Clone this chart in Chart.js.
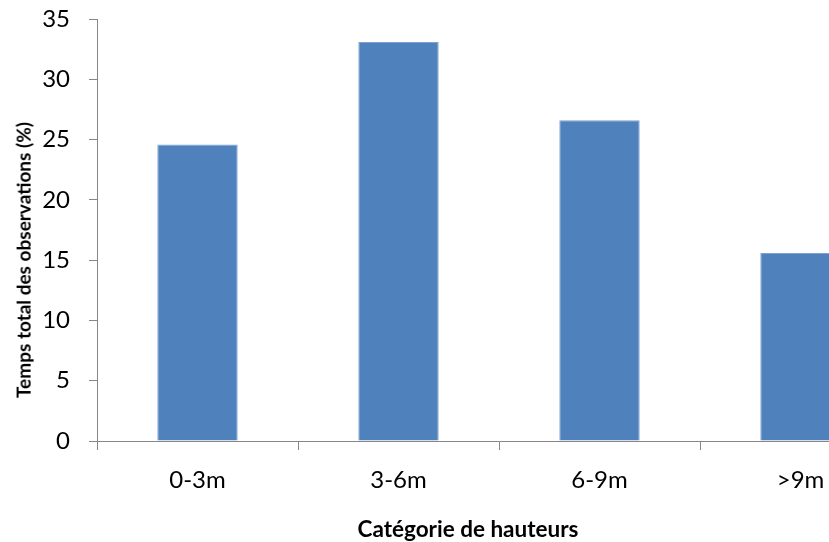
<!DOCTYPE html>
<html>
<head>
<meta charset="utf-8">
<script src="https://cdn.jsdelivr.net/npm/chart.js@4"></script>
<style>
  html, body { margin: 0; padding: 0; background: #fff; overflow: hidden; }
  #wrap { position: relative; width: 829px; height: 542px; overflow: hidden; }
  #chart { position: absolute; left: 0; top: 0; }
  .axis-title { position: absolute; font-family: Lato, sans-serif; font-weight: bold; color: #000; white-space: nowrap; line-height: 1.2; }
  #xTitle { left: 0; width: 936px; top: 515px; text-align: center; font-size: 22.5px; }
  #yTitle { left: 24px; top: 260px; font-size: 19px; transform: translate(-50%, -50%) rotate(-90deg); }
</style>
</head>
<body>
<div id="wrap">
  <canvas id="chart" width="901" height="542"></canvas>
  <div id="xTitle" class="axis-title">Catégorie de hauteurs</div>
  <div id="yTitle" class="axis-title">Temps total des observations (%)</div>
</div>
<script>
// données
const categories = ['0-3m', '3-6m', '6-9m', '>9m'];
const tempsObs   = [24.6, 33.1, 26.6, 15.6];
const yTicks     = [0, 5, 10, 15, 20, 25, 30, 35];

const axisGray = '#868686';

new Chart(document.getElementById('chart'), {
  type: 'bar',
  data: {
    labels: categories,
    datasets: [{
      data: tempsObs,
      backgroundColor: '#4F81BD',
      borderColor: '#7FA2CF',
      borderWidth: 1,
      categoryPercentage: 1,
      barPercentage: 0.4,
    }]
  },
  options: {
    responsive: false,
    animation: false,
    layout: { padding: { top: 19, right: 0, bottom: 0, left: 0 } },
    plugins: { legend: { display: false }, tooltip: { enabled: false } },
    scales: {
      x: {
        grid: { display: true, drawOnChartArea: false, drawTicks: true, tickLength: 9, color: axisGray, offset: true },
        border: { color: axisGray, width: 1 },
        ticks: { color: '#000', font: { family: 'Lato', size: 24 }, padding: 16, maxRotation: 0 },
        afterFit: s => { s.height = 101; s.paddingLeft = 0; s.paddingRight = 0; },
      },
      y: {
        min: 0, max: 35,
        afterBuildTicks: s => { s.ticks = yTicks.map(v => ({ value: v })); },
        grid: { display: true, drawOnChartArea: false, drawTicks: true, tickLength: 8, color: axisGray },
        border: { color: axisGray, width: 1 },
        ticks: { color: '#000', font: { family: 'Lato', size: 24 }, padding: 19 },
        afterFit: s => { s.width = 97; s.paddingTop = 0; s.paddingBottom = 0; },
      }
    }
  }
});
</script>
</body>
</html>
